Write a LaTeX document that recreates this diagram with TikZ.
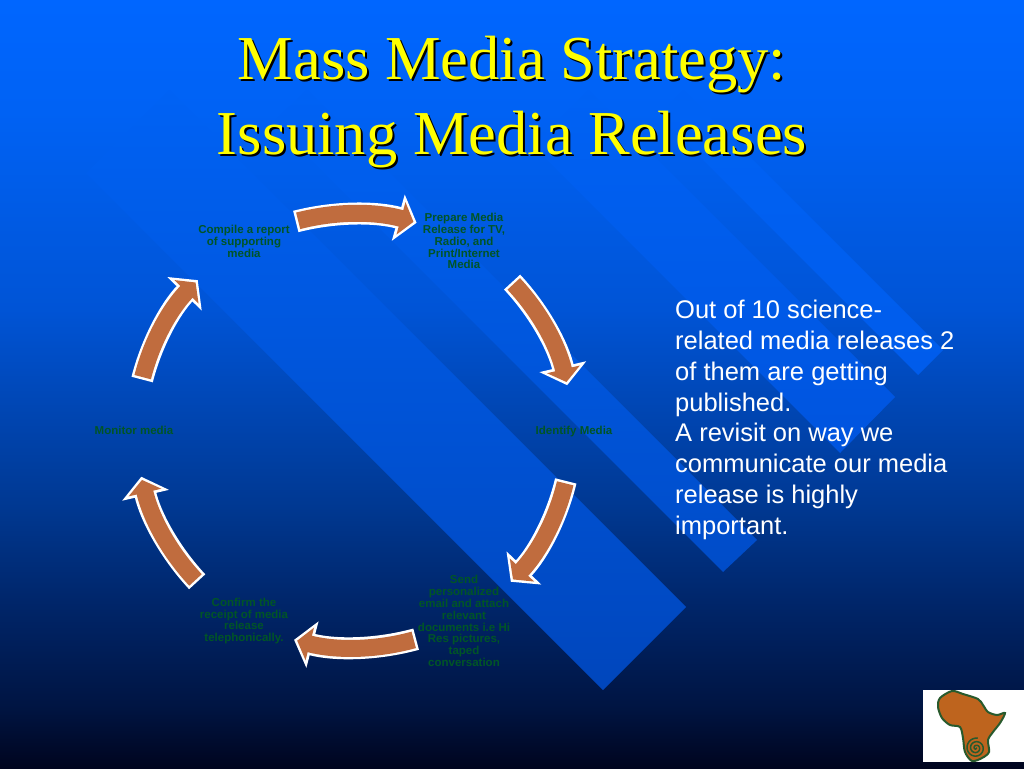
\documentclass[tikz,border=0pt]{standalone}
\usepackage{fontspec}
\setmainfont{Liberation Sans}
\newfontfamily\titlefont{Liberation Serif}
\usetikzlibrary{arrows.meta,calc}

\definecolor{stepgreen}{RGB}{0,85,38}
\definecolor{flowbrown}{RGB}{192,108,62}
\definecolor{logobrown}{RGB}{190,100,30}
\definecolor{logogreen}{RGB}{40,90,45}
\definecolor{titleyellow}{RGB}{255,255,0}
\definecolor{bandtop}{rgb}{0,.385,.96}

\pgfdeclareverticalshading{slidefill}{100bp}{rgb(0bp)=(0,.02,.12); rgb(25bp)=(0,.02,.12); rgb(29bp)=(0,.08,.26); rgb(36bp)=(0,.15,.42); rgb(42bp)=(0,.22,.57); rgb(55bp)=(0,.33,.84); rgb(68bp)=(0,.385,.96); rgb(75bp)=(0,.4,1); rgb(100bp)=(0,.4,1)}

\tikzset{
  steplabel/.style={text=stepgreen,font=\bfseries\fontsize{11.5}{11.9}\selectfont,align=center,inner sep=0pt},
  headline/.style={font=\titlefont\fontsize{62.5}{75}\selectfont,align=center,inner sep=0pt},
  flowbend/.style={bend left=15,looseness=.87},
  flowedge/.style={draw=white,line width=22pt,-{Triangle[length=19pt,width=47pt]}},
  flowbody/.style={draw=flowbrown,line width=17pt,-{Triangle[length=13pt,width=33pt]}},
}

\begin{document}
\begin{tikzpicture}[x=1pt,y=-1pt]
    \useasboundingbox (0,0) rectangle (1024,768);
    \shade[shading=slidefill] (0,0) rectangle (1024,768); %Background
    % diagonal bands
    \foreach \lx/\ly/\rx/\ry/\lowg/\lowb in {603/690/686/607/70/188, 723/572/757/540/76/200, 840/453/895/397/84/222, 918/375/943/350/92/235} {
      \definecolor{bandlow}{RGB}{0,\lowg,\lowb}
      \pgfmathsetmacro\reach{\ry-90}
      \shade[top color=bandtop,bottom color=bandlow]
        (\lx,\ly) -- (\rx,\ry) -- (\rx-\reach,\ry-\reach) -- (\lx-\reach,\ly-\reach) -- cycle;
    }
    % title
    \node[headline,text=black] (shadow) at (514,104.5) {Mass Media Strategy:\\Issuing Media Releases};
    \node[headline,text=titleyellow] (title) at (512,102.5) {Mass Media Strategy:\\Issuing Media Releases};
    % steps
    \coordinate (hub) at (354,430);
    \node[steplabel] (prepare) at (464,241) {Prepare Media\\Release for TV,\\Radio, and\\Print/Internet\\Media};
    \node[steplabel] (identify) at (574,432) {Identify Media};
    \node[steplabel] (sendout) at (464,621) {Send\\personalized\\email and attach\\relevant\\documents i.e Hi\\Res pictures,\\taped\\conversation};
    \node[steplabel] (confirm) at (244,621) {Confirm the\\receipt of media\\release\\telephonically.};
    \node[steplabel] (monitor) at (134,430) {Monitor media};
    \node[steplabel] (compile) at (244,241) {Compile a report\\of supporting\\media};
    % arrows
    \foreach \src/\dst/\gapa/\gapb in {compile/prepare/14.6/13.4, prepare/identify/16.7/12.4, identify/sendout/13/16,
        sendout/confirm/13.4/14, confirm/monitor/16/12.4, monitor/compile/13.4/16} {
      \pgfmathsetmacro\ina{\gapa+.65}
      \pgfmathsetmacro\inb{\gapb+.85}
      \draw[flowedge] ($(hub)!.99!-\gapa:(\src)$) to[flowbend] ($(hub)!.99!\gapb:(\dst)$);
      \draw[flowbody] ($(hub)!.99!-\ina:(\src)$) to[flowbend] ($(hub)!.99!\inb:(\dst)$);
    }
    % text
    \node[anchor=north west,text=white,align=left,inner sep=0pt,font=\fontsize{25.5}{30.8}\selectfont] (note) at (675,300)
      {Out of 10 science-\\related media releases 2\\of them are getting\\published.\\A revisit on way we\\communicate our media\\release is highly\\important.};
    % logo
    \fill[white] (923,690) rectangle (1024,762);
    \draw[logogreen,line width=2pt,fill=logobrown] plot[smooth cycle] coordinates {(952,691) (963,694) (978,699) (983,705) (988,712) (997,715) (1005,713) (1000,723) (993,732) (988,740) (989,752) (982,758) (972,761) (965,752) (963,738) (960,727) (950,725) (942,718) (938,707) (940,698)};
    \draw[logogreen,line width=1.5pt] plot[domain=0:1000,samples=70,smooth] ({976+\x/100*cos(\x)},{748+\x/100*sin(\x)});
  \end{tikzpicture}
\end{document}
